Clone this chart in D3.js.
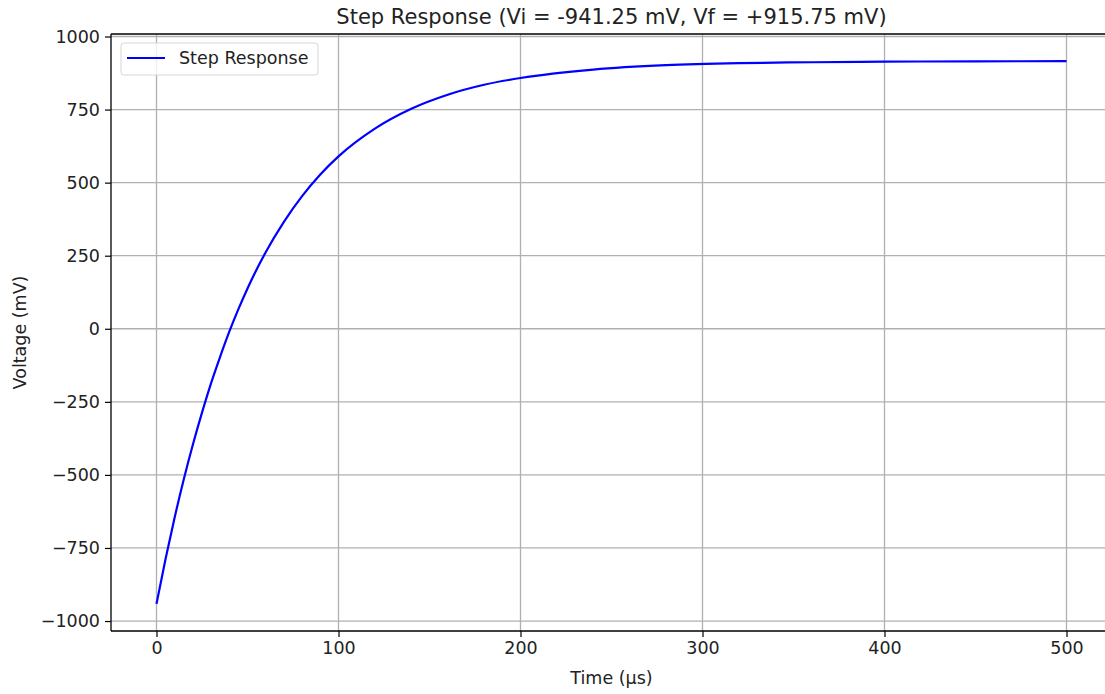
<!DOCTYPE html>
<html>
<head>
<meta charset="utf-8">
<script src="https://cdn.jsdelivr.net/npm/d3@7"></script>
<style>
  body { margin: 0; background: #fff; }
  svg { display: block; font-family: "DejaVu Sans", sans-serif; }
</style>
</head>
<body>
<svg id="chart" width="1105" height="694"></svg>
<script>
// values
var timeUs = [0, 5, 10, 15, 20, 25, 30, 35, 40, 45, 50, 60, 70, 80, 90, 100,
	120, 140, 160, 180, 200, 240, 280, 320, 360, 400, 450, 500];
var voltageMv = [-941.25, -787, -645, -515, -396, -287, -186, -95, -10, 67, 138, 262, 366, 454, 528, 590,
	685, 753, 801, 835, 858, 887, 902, 909, 912, 914, 915, 915.75];
var xTicks = [0, 100, 200, 300, 400, 500];
var yTicks = [-1000, -750, -500, -250, 0, 250, 500, 750, 1000];
var title = "Step Response (Vi = -941.25 mV, Vf = +915.75 mV)";
var seriesName = "Step Response";

var svg = d3.select("#chart");
var plotL = 111, plotR = 1112, plotT = 34, plotB = 631;

var x = d3.scaleLinear().domain([-25, 525]).range([plotL, plotR]);
var y = d3.scaleLinear().domain([-1034.1, 1008.6]).range([plotB, plotT]);

var grid = svg.append("g").attr("class", "grid");
grid.selectAll("line.gx")
	.data(xTicks)
	.enter().append("line")
	.attr("x1", function(d) { return x(d); })
	.attr("x2", function(d) { return x(d); })
	.attr("y1", plotT).attr("y2", plotB)
	.style("stroke", "#b0b0b0")
	.style("stroke-width", 1.3);
grid.selectAll("line.gy")
	.data(yTicks)
	.enter().append("line")
	.attr("y1", function(d) { return y(d); })
	.attr("y2", function(d) { return y(d); })
	.attr("x1", plotL).attr("x2", plotR)
	.style("stroke", "#b0b0b0")
	.style("stroke-width", 1.3);

var line = d3.line()
	.x(function(d, i) { return x(timeUs[i]); })
	.y(function(d) { return y(d); })
	.curve(d3.curveMonotoneX);

svg.append("path")
	.datum(voltageMv)
	.attr("d", line)
	.style("fill", "none")
	.style("stroke", "#0000ff")
	.style("stroke-width", 2.2);

var fmt = function(d) { return d < 0 ? "\u2212" + Math.abs(d) : String(d); };

var xAxis = svg.append("g")
	.attr("transform", "translate(0," + plotB + ")")
	.call(d3.axisBottom(x).tickValues(xTicks).tickSize(6).tickPadding(5).tickFormat(fmt));
var yAxis = svg.append("g")
	.attr("transform", "translate(" + plotL + ",0)")
	.call(d3.axisLeft(y).tickValues(yTicks).tickSize(6).tickPadding(5).tickFormat(fmt));

[xAxis, yAxis].forEach(function(a) {
	a.select(".domain").remove();
	a.selectAll("line").style("stroke", "#000").style("stroke-width", 1.2);
	a.selectAll("text").style("font-size", "17.5px").style("fill", "#222")
		.style("font-family", "'DejaVu Sans', sans-serif");
});

// spines (the right one falls outside the picture)
svg.append("line").attr("x1", plotL).attr("x2", plotL).attr("y1", plotT).attr("y2", plotB)
	.style("stroke", "#000").style("stroke-width", 1.3);
svg.append("line").attr("x1", plotL).attr("x2", plotR).attr("y1", plotB).attr("y2", plotB)
	.style("stroke", "#000").style("stroke-width", 1.3);
svg.append("line").attr("x1", plotL).attr("x2", plotR).attr("y1", plotT).attr("y2", plotT)
	.style("stroke", "#000").style("stroke-width", 1.3);

svg.append("text")
	.attr("x", (plotL + plotR) / 2).attr("y", 24)
	.attr("text-anchor", "middle")
	.style("font-size", "21px").style("fill", "#222")
	.text(title);

svg.append("text")
	.attr("x", x(250)).attr("y", 684)
	.attr("text-anchor", "middle")
	.style("font-size", "17.5px").style("fill", "#222")
	.text("Time (\u00b5s)");

svg.append("text")
	.attr("transform", "translate(26," + ((plotT + plotB) / 2) + ") rotate(-90)")
	.attr("text-anchor", "middle")
	.style("font-size", "17.5px").style("fill", "#222")
	.text("Voltage (mV)");

// legend
var lg = svg.append("g").attr("transform", "translate(121,43)");
lg.append("rect")
	.attr("width", 197).attr("height", 32).attr("rx", 3)
	.style("fill", "#fff").style("fill-opacity", 0.8)
	.style("stroke", "#d6d6d6").style("stroke-width", 1);
lg.append("line")
	.attr("x1", 6).attr("x2", 44).attr("y1", 15).attr("y2", 15)
	.style("stroke", "#0000ff").style("stroke-width", 2.2);
lg.append("text")
	.attr("x", 58).attr("y", 21)
	.style("font-size", "17.5px").style("fill", "#222")
	.text(seriesName);
</script>
</body>
</html>
